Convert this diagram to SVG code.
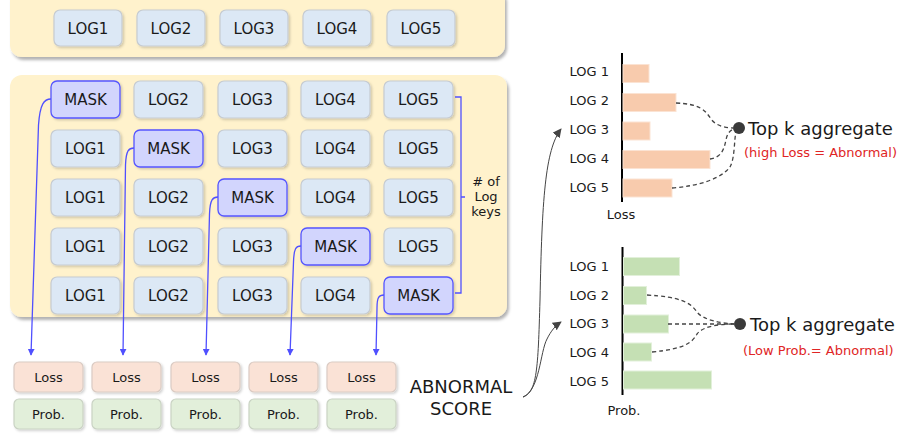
<svg xmlns="http://www.w3.org/2000/svg" width="901" height="436" viewBox="0 0 901 436">
<style>
text{font-family:"DejaVu Sans",Verdana,sans-serif;fill:#1a1a1a}
.log{fill:#dce8f5;stroke:#c6cbd1;stroke-width:1.2}
.mask{fill:#d2d5fd;stroke:#5555ff;stroke-width:1.3}
.loss{fill:#fae2d6;stroke:#dacbc3;stroke-width:1.2}
.prob{fill:#e2efda;stroke:#cad3c4;stroke-width:1.2}
.t15{font-size:15px;text-anchor:middle}
.t13{font-size:13px;text-anchor:middle}
.lab{font-size:13px;text-anchor:end}
.red{font-size:13px;fill:#e02525}
.big{font-size:18px}
.blue{fill:none;stroke:#5050ff;stroke-width:1.3}
.dash{fill:none;stroke:#444;stroke-width:1.3;stroke-dasharray:4 3}
.grey{fill:none;stroke:#444;stroke-width:1}
.barL{fill:#f8cbad;stroke:#fbe3d3;stroke-width:1}
.barP{fill:#c5e0b4;stroke:#e2f0da;stroke-width:1}
</style>
<defs>
<filter id="sh" x="-10%" y="-10%" width="130%" height="140%"><feDropShadow dx="2" dy="3" stdDeviation="1.5" flood-color="#000" flood-opacity="0.3"/></filter>
<filter id="bs" x="-10%" y="-10%" width="130%" height="140%"><feDropShadow dx="1.5" dy="1.5" stdDeviation="1" flood-color="#000" flood-opacity="0.18"/></filter>
<marker id="ab" viewBox="0 0 10 10" refX="9" refY="5" markerWidth="7" markerHeight="7" markerUnits="userSpaceOnUse" orient="auto"><path d="M0,0 L10,5 L0,10 Z" fill="#5050ff"/></marker>
<marker id="ag" viewBox="0 0 10 10" refX="9" refY="5" markerWidth="9" markerHeight="9" markerUnits="userSpaceOnUse" orient="auto"><path d="M0,0 L10,5 L0,10 Z" fill="#444"/></marker>
</defs>

<g id="top-panel">
<rect x="10" y="-12" width="495" height="69" rx="12" fill="#fff2cc" filter="url(#sh)"/>
</g>
<g id="top-log1"><rect class="log" x="54" y="10" width="68" height="36" rx="6" filter="url(#bs)"/><text class="t15" x="88" y="33.5">LOG1</text></g>
<g id="top-log2"><rect class="log" x="137" y="10" width="68" height="36" rx="6" filter="url(#bs)"/><text class="t15" x="171" y="33.5">LOG2</text></g>
<g id="top-log3"><rect class="log" x="220" y="10" width="68" height="36" rx="6" filter="url(#bs)"/><text class="t15" x="254" y="33.5">LOG3</text></g>
<g id="top-log4"><rect class="log" x="303" y="10" width="68" height="36" rx="6" filter="url(#bs)"/><text class="t15" x="337" y="33.5">LOG4</text></g>
<g id="top-log5"><rect class="log" x="387" y="10" width="68" height="36" rx="6" filter="url(#bs)"/><text class="t15" x="421" y="33.5">LOG5</text></g>

<g id="main-panel">
<rect x="10" y="75" width="497" height="242" rx="12" fill="#fff2cc" filter="url(#sh)"/>
</g>

<g id="r1c1"><rect class="mask" x="51" y="81" width="69" height="37" rx="6" filter="url(#bs)"/><text class="t15" x="85.5" y="105">MASK</text></g>
<g id="r1c2"><rect class="log" x="134" y="81" width="69" height="37" rx="6" filter="url(#bs)"/><text class="t15" x="168.5" y="105">LOG2</text></g>
<g id="r1c3"><rect class="log" x="218" y="81" width="69" height="37" rx="6" filter="url(#bs)"/><text class="t15" x="252.5" y="105">LOG3</text></g>
<g id="r1c4"><rect class="log" x="301" y="81" width="69" height="37" rx="6" filter="url(#bs)"/><text class="t15" x="335.5" y="105">LOG4</text></g>
<g id="r1c5"><rect class="log" x="384" y="81" width="69" height="37" rx="6" filter="url(#bs)"/><text class="t15" x="418.5" y="105">LOG5</text></g>

<g id="r2c1"><rect class="log" x="51" y="130" width="69" height="37" rx="6" filter="url(#bs)"/><text class="t15" x="85.5" y="154">LOG1</text></g>
<g id="r2c2"><rect class="mask" x="134" y="130" width="69" height="37" rx="6" filter="url(#bs)"/><text class="t15" x="168.5" y="154">MASK</text></g>
<g id="r2c3"><rect class="log" x="218" y="130" width="69" height="37" rx="6" filter="url(#bs)"/><text class="t15" x="252.5" y="154">LOG3</text></g>
<g id="r2c4"><rect class="log" x="301" y="130" width="69" height="37" rx="6" filter="url(#bs)"/><text class="t15" x="335.5" y="154">LOG4</text></g>
<g id="r2c5"><rect class="log" x="384" y="130" width="69" height="37" rx="6" filter="url(#bs)"/><text class="t15" x="418.5" y="154">LOG5</text></g>

<g id="r3c1"><rect class="log" x="51" y="179" width="69" height="37" rx="6" filter="url(#bs)"/><text class="t15" x="85.5" y="203">LOG1</text></g>
<g id="r3c2"><rect class="log" x="134" y="179" width="69" height="37" rx="6" filter="url(#bs)"/><text class="t15" x="168.5" y="203">LOG2</text></g>
<g id="r3c3"><rect class="mask" x="218" y="179" width="69" height="37" rx="6" filter="url(#bs)"/><text class="t15" x="252.5" y="203">MASK</text></g>
<g id="r3c4"><rect class="log" x="301" y="179" width="69" height="37" rx="6" filter="url(#bs)"/><text class="t15" x="335.5" y="203">LOG4</text></g>
<g id="r3c5"><rect class="log" x="384" y="179" width="69" height="37" rx="6" filter="url(#bs)"/><text class="t15" x="418.5" y="203">LOG5</text></g>

<g id="r4c1"><rect class="log" x="51" y="228" width="69" height="37" rx="6" filter="url(#bs)"/><text class="t15" x="85.5" y="252">LOG1</text></g>
<g id="r4c2"><rect class="log" x="134" y="228" width="69" height="37" rx="6" filter="url(#bs)"/><text class="t15" x="168.5" y="252">LOG2</text></g>
<g id="r4c3"><rect class="log" x="218" y="228" width="69" height="37" rx="6" filter="url(#bs)"/><text class="t15" x="252.5" y="252">LOG3</text></g>
<g id="r4c4"><rect class="mask" x="301" y="228" width="69" height="37" rx="6" filter="url(#bs)"/><text class="t15" x="335.5" y="252">MASK</text></g>
<g id="r4c5"><rect class="log" x="384" y="228" width="69" height="37" rx="6" filter="url(#bs)"/><text class="t15" x="418.5" y="252">LOG5</text></g>

<g id="r5c1"><rect class="log" x="51" y="277" width="69" height="37" rx="6" filter="url(#bs)"/><text class="t15" x="85.5" y="301">LOG1</text></g>
<g id="r5c2"><rect class="log" x="134" y="277" width="69" height="37" rx="6" filter="url(#bs)"/><text class="t15" x="168.5" y="301">LOG2</text></g>
<g id="r5c3"><rect class="log" x="218" y="277" width="69" height="37" rx="6" filter="url(#bs)"/><text class="t15" x="252.5" y="301">LOG3</text></g>
<g id="r5c4"><rect class="log" x="301" y="277" width="69" height="37" rx="6" filter="url(#bs)"/><text class="t15" x="335.5" y="301">LOG4</text></g>
<g id="r5c5"><rect class="mask" x="384" y="277" width="69" height="37" rx="6" filter="url(#bs)"/><text class="t15" x="418.5" y="301">MASK</text></g>

<g id="brace">
<path d="M455,97 H461 V293 H455 M461,197 H465" fill="none" stroke="#5050ff" stroke-width="1.3"/>
<text font-size="13" text-anchor="middle" x="486" y="186">#<tspan dx="4">of</tspan></text>
<text font-size="13" text-anchor="middle" x="486" y="201">Log</text>
<text font-size="13" text-anchor="middle" x="486" y="216">keys</text>
</g>

<g id="loss1"><rect class="loss" x="14" y="362" width="69" height="30" rx="5" filter="url(#bs)"/><text class="t13" x="48.5" y="381.5">Loss</text></g>
<g id="loss2"><rect class="loss" x="92" y="362" width="69" height="30" rx="5" filter="url(#bs)"/><text class="t13" x="126.5" y="381.5">Loss</text></g>
<g id="loss3"><rect class="loss" x="171" y="362" width="69" height="30" rx="5" filter="url(#bs)"/><text class="t13" x="205.5" y="381.5">Loss</text></g>
<g id="loss4"><rect class="loss" x="249" y="362" width="69" height="30" rx="5" filter="url(#bs)"/><text class="t13" x="283.5" y="381.5">Loss</text></g>
<g id="loss5"><rect class="loss" x="327" y="362" width="69" height="30" rx="5" filter="url(#bs)"/><text class="t13" x="361.5" y="381.5">Loss</text></g>

<g id="prob1"><rect class="prob" x="14" y="399" width="69" height="30" rx="5" filter="url(#bs)"/><text class="t13" x="48.5" y="418.5">Prob.</text></g>
<g id="prob2"><rect class="prob" x="92" y="399" width="69" height="30" rx="5" filter="url(#bs)"/><text class="t13" x="126.5" y="418.5">Prob.</text></g>
<g id="prob3"><rect class="prob" x="171" y="399" width="69" height="30" rx="5" filter="url(#bs)"/><text class="t13" x="205.5" y="418.5">Prob.</text></g>
<g id="prob4"><rect class="prob" x="249" y="399" width="69" height="30" rx="5" filter="url(#bs)"/><text class="t13" x="283.5" y="418.5">Prob.</text></g>
<g id="prob5"><rect class="prob" x="327" y="399" width="69" height="30" rx="5" filter="url(#bs)"/><text class="t13" x="361.5" y="418.5">Prob.</text></g>

<g id="abnormal-score">
<text class="big" text-anchor="middle" x="461" y="393">ABNORMAL</text>
<text class="big" text-anchor="middle" x="461" y="415">SCORE</text>
</g>

<g id="loss-chart">
<line x1="622" y1="53" x2="622" y2="202" stroke="#000" stroke-width="2"/>
<text class="lab" x="609" y="76">LOG 1</text>
<text class="lab" x="609" y="105">LOG 2</text>
<text class="lab" x="609" y="134">LOG 3</text>
<text class="lab" x="609" y="163">LOG 4</text>
<text class="lab" x="609" y="192">LOG 5</text>
<rect class="barL" x="623" y="64.5" width="26" height="18"/>
<rect class="barL" x="623" y="93.5" width="53" height="18"/>
<rect class="barL" x="623" y="122" width="27" height="18"/>
<rect class="barL" x="623" y="150.5" width="87" height="18"/>
<rect class="barL" x="623" y="179" width="49" height="18"/>
<text class="t13" x="621" y="219">Loss</text>
</g>

<g id="loss-aggregate">
<circle cx="739" cy="128" r="6" fill="#3a3a3a"/>
<text class="big" x="748" y="135">Top k aggregate</text>
<text class="red" x="744" y="157">(high Loss = Abnormal)</text>
</g>

<g id="prob-chart">
<line x1="622.5" y1="247" x2="622.5" y2="395" stroke="#000" stroke-width="2"/>
<text class="lab" x="609" y="271">LOG 1</text>
<text class="lab" x="609" y="299.5">LOG 2</text>
<text class="lab" x="609" y="328">LOG 3</text>
<text class="lab" x="609" y="357">LOG 4</text>
<text class="lab" x="609" y="386">LOG 5</text>
<rect class="barP" x="623.5" y="257.5" width="56" height="18"/>
<rect class="barP" x="623.5" y="286.5" width="23" height="18"/>
<rect class="barP" x="623.5" y="315" width="45" height="18"/>
<rect class="barP" x="623.5" y="343" width="28" height="18"/>
<rect class="barP" x="623.5" y="371" width="88" height="18"/>
<text class="t13" x="624" y="415">Prob.</text>
</g>

<g id="prob-aggregate">
<circle cx="740" cy="324" r="6" fill="#3a3a3a"/>
<text class="big" x="750" y="331">Top k aggregate</text>
<text class="red" x="743" y="355">(Low Prob.= Abnormal)</text>
</g>

<g id="connectors">
<path class="blue" d="M51,99 C44,99 40,104 38.5,125 L31,355" marker-end="url(#ab)"/>
<path class="blue" d="M134,148 C129,148 126,150 125.5,165 L123,355" marker-end="url(#ab)"/>
<path class="blue" d="M218,197 C213,197 210,199 209.5,214 L206,355" marker-end="url(#ab)"/>
<path class="blue" d="M301,246 C296,246 294,248 293.5,262 L290,355" marker-end="url(#ab)"/>
<path class="blue" d="M384,295 C379,295 377,297 377,308 L376,355" marker-end="url(#ab)"/>

<path class="dash" d="M676,103 C700,104 705,110 711,119 C716,126 726,128 733,128"/>
<path class="dash" d="M710,159 C722,157 724,149 726,140 C727,134 730,130 734,129"/>
<path class="dash" d="M672,188 C700,186 722,178 730,167 C735,158 734,140 736,132"/>

<path class="dash" d="M647,295 C680,297 690,302 697,312 C703,320 720,323 734,324"/>
<path class="dash" d="M668,324 H734"/>
<path class="dash" d="M652,352 C684,349 692,343 697,334 C703,326 720,324 734,324"/>

<path class="grey" d="M523,397 C537,392 538,370 540,300 C542,200 545,150 561,129" marker-end="url(#ag)"/>
<path class="grey" d="M523,397 C540,390 540,352 547,339 C551,331 555,326 561,322" marker-end="url(#ag)"/>
</g>
</svg>
